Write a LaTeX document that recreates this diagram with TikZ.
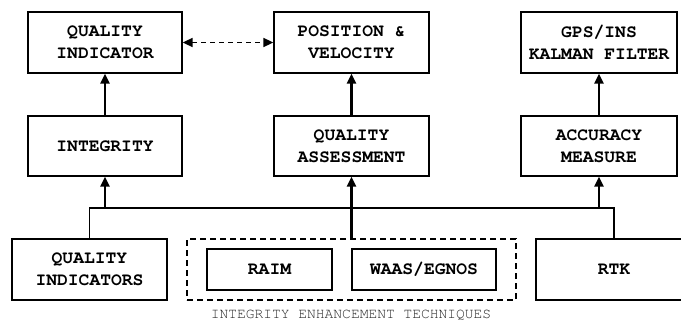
\documentclass[tikz,border=0pt]{standalone}
\usepackage{fontspec}
\setmonofont{texgyrecursor}[Extension=.otf, UprightFont=*-regular, BoldFont=*-bold]
\usetikzlibrary{arrows.meta}
\begin{document}
\begin{tikzpicture}[x=1pt,y=-1pt,
  box/.style={draw, line width=1.3pt, align=center, inner sep=0pt,
    font=\ttfamily\bfseries\fontsize{18}{22}\selectfont},
  arr/.style={line width=2.2pt, -{Triangle[length=10pt,width=9pt]}},
  bus/.style={line width=1.7pt}]
\useasboundingbox (0,0) rectangle (681,324);
\node[box, minimum width=154pt, minimum height=61pt] (qi) at (105,42.5) {QUALITY\\INDICATOR};
\node[box, minimum width=155pt, minimum height=61pt] (pv) at (351.5,42.5) {POSITION \&\\VELOCITY};
\node[box, minimum width=156pt, minimum height=61pt] (gps) at (599,42.5) {GPS/INS\\KALMAN FILTER};
\node[box, minimum width=154pt, minimum height=60pt] (int) at (105,146) {INTEGRITY};
\node[box, minimum width=155pt, minimum height=60pt] (qa) at (351.5,146) {QUALITY\\ASSESSMENT};
\node[box, minimum width=156pt, minimum height=60pt] (acc) at (599,146) {ACCURACY\\MEASURE};
\node[box, minimum width=155pt, minimum height=61pt] (qis) at (89.5,269.5) {QUALITY\\INDICATORS};
\node[draw, dashed, dash pattern=on 6pt off 4pt, line width=1.3pt, minimum width=329pt, minimum height=61pt, inner sep=0pt] (iet) at (351.5,269.5) {};
\node[box, minimum width=125pt, minimum height=41pt] (raim) at (269.5,269.5) {RAIM};
\node[box, minimum width=144pt, minimum height=41pt] (waas) at (424,269.5) {WAAS/EGNOS};
\node[box, minimum width=156pt, minimum height=61pt] (rtk) at (614,269.5) {RTK};
\node[font=\ttfamily\fontsize{14.6}{16}\selectfont, text=black!85] (cap) at (351,315) {INTEGRITY ENHANCEMENT TECHNIQUES};
\coordinate (bl) at (89.5,208);
\coordinate (br) at (614,208);
\draw[line width=1.7pt, dashed, dash pattern=on 5pt off 4pt, {Triangle[length=10pt,width=9pt]}-{Triangle[length=10pt,width=9pt]}] (qi.east) -- (pv.west);
\draw[arr] (int.north) -- (qi.south);
\draw[arr] (qa.north) -- (pv.south);
\draw[arr] (acc.north) -- (gps.south);
\draw[bus] (qis.north) -- (bl) -- (br) -- (rtk.north);
\draw[arr] (int.south |- bl) -- (int.south);
\draw[arr] (iet.north) -- (qa.south);
\draw[arr] (acc.south |- bl) -- (acc.south);
\end{tikzpicture}
\end{document}
